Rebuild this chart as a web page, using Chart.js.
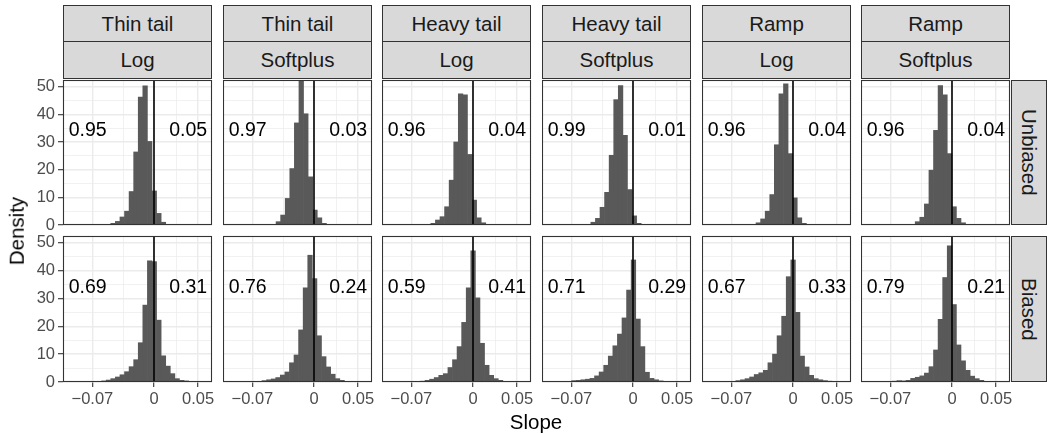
<!DOCTYPE html>
<html><head><meta charset="utf-8">
<script src="https://cdn.jsdelivr.net/npm/chart.js@4.4.1/dist/chart.umd.min.js"></script>
<style>
html,body{margin:0;padding:0;background:#fff;}
#wrap{position:relative;width:1048px;height:434px;overflow:hidden;font-family:"Liberation Sans",Arial,Helvetica,sans-serif;}
#wrap canvas{position:absolute;}
.strip{position:absolute;box-sizing:border-box;background:#D9D9D9;border:1px solid #333;display:flex;align-items:center;justify-content:center;color:#1A1A1A;font-size:20.5px;white-space:nowrap;}
.vstrip{writing-mode:vertical-rl;}
.ann{position:absolute;font-size:19.5px;color:#000;white-space:nowrap;transform:translate(-50%,-50%);line-height:1;}
.title{position:absolute;font-size:20.5px;color:#000;white-space:nowrap;line-height:1;transform:translate(-50%,-50%);}
</style></head><body><div id="wrap"></div>
<script>
// ---------- data ----------
const tailLabels = ['Thin tail','Thin tail','Heavy tail','Heavy tail','Ramp','Ramp'];
const linkLabels = ['Log','Softplus','Log','Softplus','Log','Softplus'];
const rowLabels = ['Unbiased','Biased'];
const xMajorTicks = [-0.07, 0, 0.05];
const xMinorTicks = [-0.035, 0.025];
const yMajorTicks = [0, 10, 20, 30, 40, 50];
const yMinorTicks = [5, 15, 25, 35, 45];
const shareBelowZero = [[0.95, 0.97, 0.96, 0.99, 0.96, 0.96], [0.69, 0.76, 0.59, 0.71, 0.67, 0.79]];
const shareAboveZero = [[0.05, 0.03, 0.04, 0.01, 0.04, 0.04], [0.31, 0.24, 0.41, 0.29, 0.33, 0.21]];
const binWidth = 0.0052;
const binStart = [[-0.0491, -0.0431, -0.0479, -0.0479, -0.0420, -0.0418],
                  [-0.0595, -0.0591, -0.0597, -0.0697, -0.0649, -0.0678]];
const densThinLogU      = [0.6, 1.3, 2.9, 5.0, 12.1, 26.4, 46.2, 50.3, 30.2, 12.3, 4.2, 1.0];
const densThinSoftU     = [1.2, 3.6, 9.6, 20.4, 36.9, 52.2, 40.2, 17.4, 5.4, 2.6, 0.6];
const densHeavyLogU     = [0.6, 1.8, 3.0, 6.6, 16.2, 30.0, 47.4, 47.0, 25.5, 9.0, 2.6, 0.8];
const densHeavySoftU    = [1.0, 2.4, 6.4, 11.8, 25.2, 45.3, 50.4, 32.4, 12.8, 3.3, 0.6];
const densRampLogU      = [0.8, 2.2, 5.0, 11.0, 29.0, 47.4, 51.0, 25.8, 9.8, 2.6, 0.6];
const densRampSoftU     = [1.2, 2.8, 7.6, 19.8, 34.2, 50.4, 47.0, 25.8, 6.6, 2.4, 0.8];
const densThinLogB      = [0.4, 0.7, 1.2, 1.8, 2.6, 3.7, 5.5, 8.0, 14.1, 27.6, 43.5, 43.2, 22.2, 9.4, 5.7, 3.0, 1.2, 0.6, 0.4, 0.2];
const densThinSoftB     = [0.5, 0.8, 1.1, 1.6, 2.5, 3.6, 6.9, 9.7, 18.7, 33.8, 45.5, 37.1, 16.6, 9.1, 5.4, 2.8, 1.2, 0.6];
const densHeavyLogB     = [0.3, 0.6, 1.0, 1.6, 2.4, 3.0, 5.2, 8.0, 12.7, 21.4, 33.8, 47.1, 30.2, 13.9, 6.0, 2.4, 1.2, 0.6];
const densHeavySoftB    = [0.5, 0.6, 0.8, 1.0, 1.3, 2.2, 3.6, 6.0, 9.3, 13.0, 17.2, 23.0, 33.0, 43.8, 22.6, 12.7, 3.5, 1.3, 0.8, 0.4];
const densRampLogB      = [0.5, 0.8, 1.2, 1.8, 2.7, 3.3, 4.2, 6.9, 10.0, 16.6, 23.6, 37.8, 43.8, 25.0, 9.3, 5.4, 2.4, 1.2, 0.8, 0.5, 0.3];
const densRampSoftB     = [0.3, 0.5, 0.4, 0.6, 1.3, 1.7, 2.2, 3.2, 5.5, 11.5, 22.5, 37.5, 48.9, 27.8, 13.3, 7.6, 4.2, 2.1, 1.2, 0.6];
const densities = [
  [densThinLogU, densThinSoftU, densHeavyLogU, densHeavySoftU, densRampLogU, densRampSoftU],
  [densThinLogB, densThinSoftB, densHeavyLogB, densHeavySoftB, densRampLogB, densRampSoftB]
];
const X_MIN = -0.1034, X_MAX = 0.0659, Y_MAX = 52.4;
const ANN_X_LEFT = -0.0753, ANN_X_RIGHT = 0.0388, ANN_Y = 34.2;

// ---------- layout ----------
const panelLeft = [63, 223, 382, 542, 702, 861];
const panelTop = [80, 236];
const PW = 149;
const PH = [145, 146];
const AXIS_W = 60, AXIS_H = 30, MARGIN = 12;

Chart.defaults.font.family = '"Liberation Sans", Arial, Helvetica, sans-serif';
const wrap = document.getElementById('wrap');

const fmtX = v => v === 0 ? '0' : (v < 0 ? '\u2212' + String(-v) : String(v));
const isMajorX = v => xMajorTicks.some(t => Math.abs(t - v) < 1e-9);
const isMajorY = v => yMajorTicks.includes(v);

const panelDeco = {
  id: 'panelDeco',
  afterDatasetsDraw(chart) {
    const {ctx, chartArea: a, scales} = chart;
    const x0 = scales.x.getPixelForValue(0);
    ctx.save();
    ctx.strokeStyle = '#000';
    ctx.lineWidth = 1.6;
    ctx.beginPath();
    ctx.moveTo(x0, a.top);
    ctx.lineTo(x0, a.bottom);
    ctx.stroke();
    ctx.restore();
  },
  afterDraw(chart) {
    const {ctx, chartArea: a} = chart;
    ctx.save();
    ctx.strokeStyle = '#333333';
    ctx.lineWidth = 1.1;
    ctx.strokeRect(a.left + 0.5, a.top + 0.5, a.right - a.left - 1, a.bottom - a.top - 1);
    ctx.restore();
  }
};

function addDiv(cls, text, styles) {
  const d = document.createElement('div');
  d.className = cls;
  d.textContent = text;
  Object.assign(d.style, styles);
  wrap.appendChild(d);
  return d;
}

for (let r = 0; r < 2; r++) {
  for (let c = 0; c < 6; c++) {
    const isLeft = c === 0, isBottom = r === 1;
    const axW = isLeft ? AXIS_W : 0, axH = isBottom ? AXIS_H : 0;
    const padBottom = isBottom ? 0 : MARGIN;
    const w = axW + PW + MARGIN, h = MARGIN + PH[r] + axH + padBottom;
    const cv = document.createElement('canvas');
    cv.width = w; cv.height = h;
    cv.style.width = w + 'px'; cv.style.height = h + 'px';
    const cLeft = panelLeft[c] - axW, cTop = panelTop[r] - MARGIN;
    cv.style.left = cLeft + 'px'; cv.style.top = cTop + 'px';
    wrap.appendChild(cv);

    const dens = densities[r][c];
    const pts = dens.map((d, i) => ({x: binStart[r][c] + (i + 0.5) * binWidth, y: d}));

    const chart = new Chart(cv, {
      type: 'bar',
      data: {datasets: [{data: pts, backgroundColor: '#595959', borderWidth: 0,
                         barPercentage: 1, categoryPercentage: 1}]},
      options: {
        responsive: false, animation: false, events: [],
        layout: {padding: {left: 0, top: MARGIN, right: MARGIN, bottom: padBottom}},
        plugins: {legend: {display: false}, tooltip: {enabled: false}, title: {display: false}},
        scales: {
          x: {
            type: 'linear', min: X_MIN, max: X_MAX, offset: false,
            afterBuildTicks: s => { s.ticks = [...xMajorTicks, ...xMinorTicks].sort((a, b) => a - b).map(v => ({value: v})); },
            afterFit: s => { s.height = axH; s.paddingLeft = 0; s.paddingRight = 0; },
            border: {display: false},
            grid: {
              offset: false, drawTicks: isBottom, tickLength: 5,
              color: '#EBEBEB',
              lineWidth: ctx => isMajorX(ctx.tick.value) ? 1.4 : 0.7,
              tickColor: ctx => isMajorX(ctx.tick.value) ? '#333333' : 'rgba(0,0,0,0)',
              tickWidth: 1.1
            },
            ticks: {
              display: isBottom, autoSkip: false, maxRotation: 0, minRotation: 0, padding: 3,
              color: '#4D4D4D', font: {size: 16.5},
              callback: v => isMajorX(v) ? fmtX(v) : ''
            }
          },
          y: {
            type: 'linear', min: 0, max: Y_MAX,
            afterBuildTicks: s => { s.ticks = [...yMajorTicks, ...yMinorTicks].sort((a, b) => a - b).map(v => ({value: v})); },
            afterFit: s => { s.width = axW; s.paddingTop = 0; s.paddingBottom = 0; },
            border: {display: false},
            grid: {
              drawTicks: isLeft, tickLength: 5,
              color: '#EBEBEB',
              lineWidth: ctx => isMajorY(ctx.tick.value) ? 1.4 : 0.7,
              tickColor: ctx => isMajorY(ctx.tick.value) ? '#333333' : 'rgba(0,0,0,0)',
              tickWidth: 1.1
            },
            ticks: {
              display: isLeft, autoSkip: false, padding: 3,
              color: '#4D4D4D', font: {size: 16.5},
              callback: v => isMajorY(v) ? String(v) : ''
            }
          }
        }
      },
      plugins: [panelDeco]
    });

    const xs = chart.scales.x, ys = chart.scales.y;
    addDiv('ann', shareBelowZero[r][c].toFixed(2),
      {left: (cLeft + xs.getPixelForValue(ANN_X_LEFT)) + 'px', top: (cTop + ys.getPixelForValue(ANN_Y)) + 'px'});
    addDiv('ann', shareAboveZero[r][c].toFixed(2),
      {left: (cLeft + xs.getPixelForValue(ANN_X_RIGHT)) + 'px', top: (cTop + ys.getPixelForValue(ANN_Y)) + 'px'});
  }
}

// strips
for (let c = 0; c < 6; c++) {
  addDiv('strip', tailLabels[c], {left: panelLeft[c] + 'px', top: '5px', width: PW + 'px', height: '37px'});
  addDiv('strip', linkLabels[c], {left: panelLeft[c] + 'px', top: '41px', width: PW + 'px', height: '38px'});
}
for (let r = 0; r < 2; r++) {
  addDiv('strip vstrip', rowLabels[r], {left: '1011px', top: panelTop[r] + 'px', width: '36px', height: PH[r] + 'px'});
}
// axis titles
addDiv('title', 'Slope', {left: '536px', top: '422px'});
const yt = addDiv('title', 'Density', {left: '17px', top: '231px'});
yt.style.transform = 'translate(-50%,-50%) rotate(-90deg)';
</script></body></html>
